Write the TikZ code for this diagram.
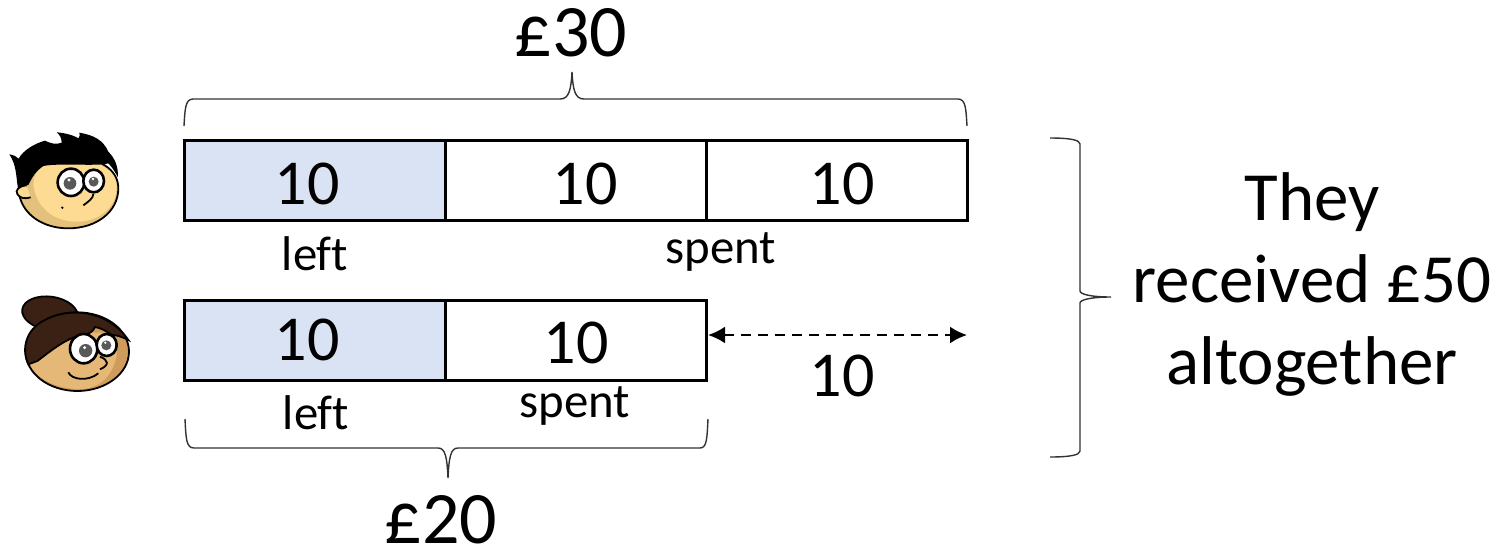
\documentclass[tikz,border=0pt]{standalone}
\usepackage{fontspec}
\setmainfont[Ligatures=NoCommon,Numbers=Lining]{Carlito}
\usetikzlibrary{positioning}
\usetikzlibrary{arrows.meta}

\definecolor{barfill}{HTML}{DAE3F3}
\definecolor{skinA}{HTML}{FDDB92}
\definecolor{skinAd}{HTML}{E3C07C}
\definecolor{skinB}{HTML}{E6B877}
\definecolor{skinBd}{HTML}{CF9C5C}
\definecolor{hairB}{HTML}{3A2113}
\tikzset{
  cell/.style={draw=black,line width=1.5pt,minimum height=40pt,minimum width=130.5pt,inner sep=0pt,outer sep=0pt},
  leftcell/.style={cell,fill=barfill},
  word/.style={inner sep=0pt,font=\fontsize{24.4}{24.4}\selectfont},
  big/.style={inner sep=0pt,font=\fontsize{32}{32}\selectfont},
  total/.style={inner sep=0pt,font=\fontsize{37}{37}\selectfont},
  bracket/.style={draw=black!80,line width=.7pt},
  outline/.style={draw=black,line width=.9pt},
}

\begin{document}
\begin{tikzpicture}[x=.5pt,y=-.5pt]
\useasboundingbox (0,0) rectangle (1499,552);
% the two bars
\node[leftcell,anchor=north west] (a1) at (184,140) {};
\node[cell,right=0pt of a1] (a2) {};
\node[cell,right=0pt of a2] (a3) {};
\node[leftcell,anchor=north west] (b1) at (184,300) {};
\node[cell,right=0pt of b1] (b2) {};
\node[big] at (307,184) {10};
\node[big] at (585,184) {10};
\node[big] at (842,184) {10};
\node[big] at (307,340) {10};
\node[big] at (576,343) {10};
\node[big] (gap) at (842,376) {10};
\node[word] at (315,254) {left};
\node[word] at (721,252) {spent};
\node[word] at (316,413) {left};
\node[word] at (575,406) {spent};
\node[total] at (571,33) {£30};
\node[total] at (441,520) {£20};
\node[inner sep=0pt,align=center,font=\fontsize{34.5}{41}\selectfont] (sum) at (1312,284) {They\\received £50\\altogether};
% dashed arrow
\coordinate (gapend) at (967,335);
\draw[line width=1.2pt,dash pattern=on 5pt off 3.5pt,{Latex[length=8.5pt,width=8.5pt]}-{Latex[length=8.5pt,width=8.5pt]}] (b2.east |- gapend) ++(2,0) -- (gapend);
% braces
\draw[bracket] (184,126) .. controls (185,110) and (185,99) .. (193,99) -- (560,99)
  .. controls (569,99) and (571,90) .. (572,72) .. controls (573,90) and (575,99) .. (584,99)
  -- (958,99) .. controls (966,99) and (966,110) .. (967,126);
\draw[bracket] (185,419) .. controls (186,438) and (186,448) .. (194,448) -- (438,448)
  .. controls (445,448) and (447,456) .. (448,478) .. controls (449,456) and (451,448) .. (458,448)
  -- (700,448) .. controls (707,448) and (707,438) .. (708,419);
\draw[bracket] (1050,138) .. controls (1070,138) and (1080,140) .. (1080,144) -- (1080,291)
  .. controls (1080,294) and (1090,297) .. (1111,297) .. controls (1090,297) and (1080,300) .. (1080,303)
  -- (1080,451) .. controls (1080,455) and (1070,457) .. (1050,457);
% boy's head, coordinates in thirds of a unit
\begin{scope}[shift={(0,120)},x=.5pt/3,y=-.5pt/3]
\filldraw[outline,fill=skinAd] (58,225) .. controls (70,285) and (130,325) .. (205,325)
  .. controls (290,325) and (355,275) .. (355,205) .. controls (355,150) and (300,110) .. (205,110)
  .. controls (120,110) and (60,160) .. (58,225) -- cycle;
\fill[skinA] (100,190) .. controls (105,260) and (160,305) .. (230,305)
  .. controls (300,305) and (350,260) .. (350,200) .. controls (350,150) and (300,120) .. (205,120)
  .. controls (140,120) and (100,150) .. (100,190) -- cycle;
\filldraw[outline,fill=skinA] (80,196) .. controls (55,198) and (45,212) .. (52,222)
  .. controls (58,234) and (75,238) .. (92,232);
\fill[black] (28,103) .. controls (42,105) and (50,110) .. (56,116)
  .. controls (70,90) and (105,70) .. (135,62) .. controls (150,70) and (170,75) .. (185,68)
  .. controls (185,55) and (180,45) .. (170,37) .. controls (190,38) and (220,45) .. (235,55)
  .. controls (240,50) and (240,45) .. (238,38) .. controls (280,45) and (310,60) .. (325,95)
  .. controls (345,115) and (355,140) .. (354,172) .. controls (345,155) and (335,140) .. (325,130)
  .. controls (290,140) and (180,128) .. (130,138) .. controls (105,155) and (95,175) .. (85,195)
  .. controls (70,195) and (60,200) .. (54,205) .. controls (48,170) and (50,135) .. (28,103) -- cycle;
\filldraw[draw=black,line width=1.3pt,fill=white] (213,187) ellipse [x radius=40,y radius=41];
\filldraw[draw=black,line width=1.3pt,fill=white] (281,183) ellipse [x radius=31,y radius=34];
\fill[black!65] (210,190) circle [radius=19];
\fill[black!65] (281,185) circle [radius=15];
\fill[white] (207,180) circle [radius=5];
\fill[white] (279,177) circle [radius=4];
\draw[line width=.9pt] (280,222) .. controls (280,235) and (265,245) .. (250,256);
\fill[black] (187,263) circle [radius=4];
\end{scope}
% girl's head
\begin{scope}[shift={(0,285)},x=.5pt/3,y=-.5pt/3]
\filldraw[outline,fill=hairB,rotate around={-8:(150,85)}] (150,85) ellipse [x radius=84,y radius=50];
\filldraw[outline,fill=skinBd] (232,200) ellipse [x radius=155,y radius=118];
\fill[skinB] (90,235) .. controls (105,280) and (170,312) .. (240,312)
  .. controls (300,312) and (340,270) .. (350,210) .. controls (352,190) and (350,170) .. (340,150)
  .. controls (250,120) and (100,190) .. (90,235) -- cycle;
\filldraw[outline,fill=hairB] (85,238) .. controls (62,190) and (80,130) .. (135,105)
  .. controls (200,68) and (320,70) .. (385,165) .. controls (365,155) and (350,150) .. (335,150)
  .. controls (320,138) and (300,128) .. (285,126) .. controls (280,138) and (270,145) .. (255,150)
  .. controls (205,152) and (150,200) .. (112,228) -- cycle;
\filldraw[draw=black,line width=1.3pt,fill=white] (251,191) ellipse [x radius=41,y radius=44];
\filldraw[draw=black,line width=1.3pt,fill=white] (320,180) ellipse [x radius=30,y radius=33];
\fill[black!65] (257,197) circle [radius=20];
\fill[black!65] (319,181) circle [radius=15];
\fill[white] (254,188) circle [radius=5];
\fill[white] (316,173) circle [radius=4];
\draw[line width=.9pt] (300,215) .. controls (325,225) and (330,240) .. (300,253);
\draw[line width=.9pt] (205,262) .. controls (215,285) and (265,290) .. (295,265);
\end{scope}
\end{tikzpicture}
\end{document}
